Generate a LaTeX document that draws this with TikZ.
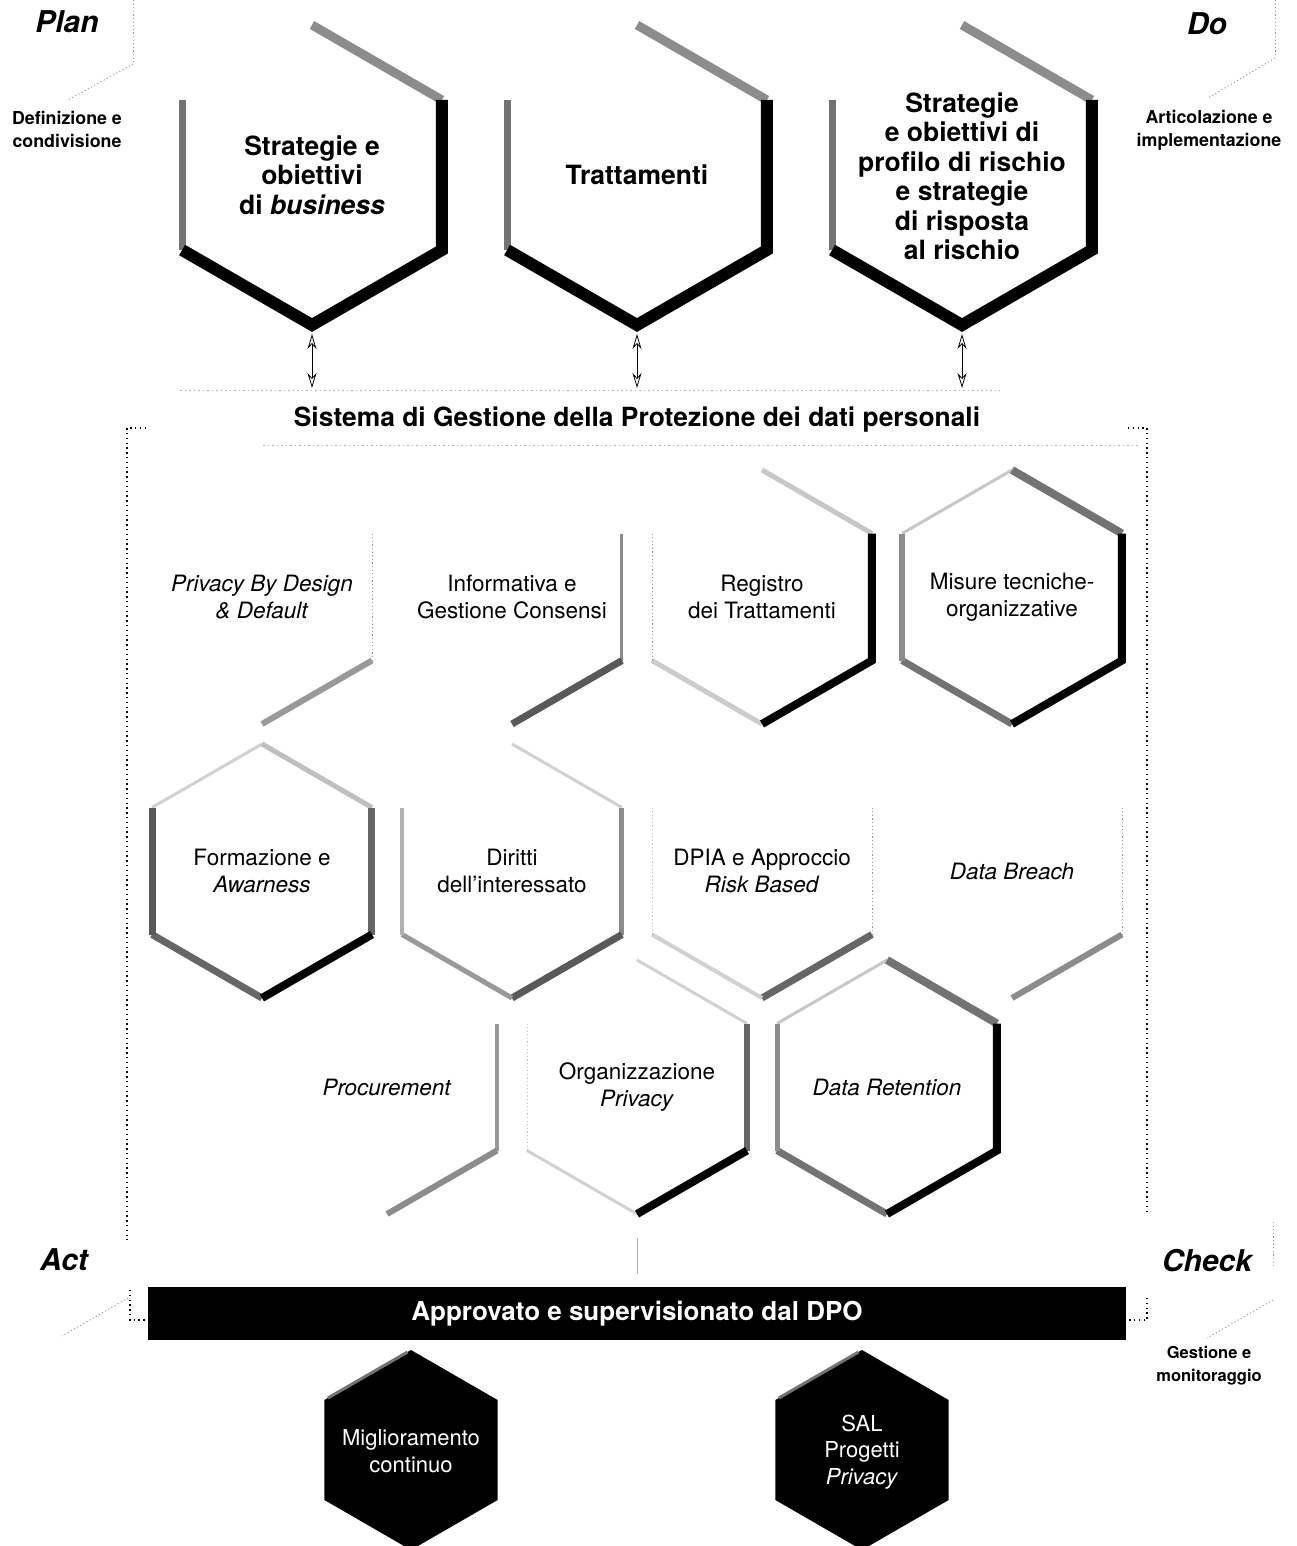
\documentclass[tikz,border=0pt]{standalone}
\usepackage{fontspec}
\setmainfont{TeX Gyre Heros}
\usetikzlibrary{arrows.meta,calc}

\newcommand{\hexpts}[4]{%
  \path (#2,#3) coordinate (#1-C)
    ++(0,-#4) coordinate (#1-T)
    ++({0.866*#4},{0.5*#4}) coordinate (#1-TR)
    ++(0,#4) coordinate (#1-BR)
    ++({-0.866*#4},{0.5*#4}) coordinate (#1-B)
    ++({-0.866*#4},{-0.5*#4}) coordinate (#1-BL)
    ++(0,-#4) coordinate (#1-TL);}

\begin{document}
\begin{tikzpicture}[x=1pt,y=-1pt,
  blkT/.style={draw=black, line width=12pt, line join=miter, miter limit=10},
  blk/.style={draw=black, line width=8pt, line join=miter, miter limit=10},
  ge/.style 2 args={draw=black!#1, line width=#2pt},
  faint/.style={draw=black!40, line width=0.9pt, dash pattern=on 1.2pt off 2.4pt},
  faintline/.style={draw=black!30, line width=0.8pt, dash pattern=on 1.5pt off 3pt},
  frame/.style={draw=black, line width=1.4pt, dash pattern=on 1.4pt off 3.4pt},
  toptxt/.style={font=\fontsize{26.5}{29.5}\selectfont\bfseries, align=center, inner sep=0pt},
  midtxt/.style={font=\fontsize{22.5}{27}\selectfont, align=center, inner sep=0pt},
  pdca/.style={font=\fontsize{30}{32}\selectfont\bfseries\itshape, inner sep=0pt},
  pdcasub/.style={font=\fontsize{17.8}{23}\selectfont\bfseries, align=center, inner sep=0pt},
  bottxt/.style={font=\fontsize{22}{26.5}\selectfont, text=white, align=center, inner sep=0pt},
  dbl/.style={{Stealth[open,length=15pt,width=9pt]}-{Stealth[open,length=15pt,width=9pt]}, line width=0.8pt},
]
\useasboundingbox[fill=white] (0,0) rectangle (1296,1546);

% ---------- hexagon geometry ----------
\hexpts{H1}{312}{175}{150}
\hexpts{H2}{637}{175}{150}
\hexpts{H3}{962}{175}{150}
\hexpts{P}{262}{597}{127}
\hexpts{I}{512}{597}{127}
\hexpts{Rg}{762}{597}{127}
\hexpts{M}{1012}{597}{127}
\hexpts{F}{262}{871}{127}
\hexpts{D}{512}{871}{127}
\hexpts{DP}{762}{871}{127}
\hexpts{DB}{1012}{871}{127}
\hexpts{Pr}{387}{1087}{127}
\hexpts{O}{637}{1087}{127}
\hexpts{DR}{887}{1087}{127}
\hexpts{MG}{411}{1450}{100}
\hexpts{SAL}{862}{1450}{100}

% ---------- top hexagons ----------
\foreach \h in {H1,H2,H3}{
  \draw[ge={45}{9}] (\h-T) -- (\h-TR);
  \draw[ge={55}{7}] (\h-TL) -- (\h-BL);
  \draw[blkT] (\h-TR) -- (\h-BR) -- (\h-B) -- (\h-BL);
}
\node[toptxt] (tH1) at (H1-C) {Strategie e\\obiettivi\\di \textit{business}};
\node[toptxt] (tH2) at (H2-C) {Trattamenti};
\node[toptxt] (tH3) at ([yshift=-1pt]H3-C) {Strategie\\e obiettivi di\\profilo di rischio\\e strategie\\di risposta\\al rischio};

% ---------- PDCA labels ----------
\node[pdca] (plan) at (67,22) {Plan};
\node[pdcasub] (plansub) at (67,129) {Definizione e\\condivisione};
\node[pdca] (do) at (1207,24) {Do};
\node[pdcasub] (dosub) at (1209,130) {Articolazione e\\implementazione};
\node[pdca] (act) at (64,1260) {Act};
\node[pdca] (check) at (1207,1261) {Check};
\node[pdcasub, font=\fontsize{16.5}{23}\selectfont\bfseries] (checksub) at (1209,1366) {Gestione e\\monitoraggio};

\draw[faint] (133,0) -- (133,62);
\draw[faint] (133,64) -- (68,100);
\draw[faint] (1275,0) -- (1275,55);
\draw[faint] (1275,58) -- (1208,98);
\draw[faint] (128,1298) -- (62,1336);
\draw[faint] (1273,1222) -- (1273,1268);
\draw[faint] (1273,1300) -- (1207,1338);

% ---------- system title and frame ----------
\node[font=\fontsize{26.4}{30}\selectfont\bfseries, inner sep=0pt] (sys) at (637,420)
  {Sistema di Gestione della Protezione dei dati personali};
\coordinate (sysY) at (637,388);
\draw[faintline] (180,390) -- (1000,390);
\draw[faintline] (263,445) -- (1140,445);

\foreach \h in {H1,H2,H3}{
  \draw[dbl] ([yshift=-9pt]\h-B) -- (\h-B |- sysY);
}

\draw[frame] (146,428) -- (127,428) -- (127,1240);
\draw[frame] (1128,428) -- (1147,428) -- (1147,1215);

% ---------- middle hexagons: row 1 ----------
\draw[faint] (P-TR) -- (P-BR);
\draw[ge={40}{6}] (P-BR) -- (P-B);

\draw[ge={45}{3}] (I-TR) -- (I-BR);
\draw[ge={65}{7}] (I-BR) -- (I-B);

\draw[ge={22}{5}] (Rg-T) -- (Rg-TR);
\draw[ge={20}{5}] (Rg-B) -- (Rg-BL);
\draw[faint] (Rg-BL) -- (Rg-TL);
\draw[blk] (Rg-TR) -- (Rg-BR) -- (Rg-B);

\draw[ge={22}{3}] (M-TL) -- (M-T);
\draw[ge={55}{8}] (M-T) -- (M-TR);
\draw[ge={55}{7}] (M-B) -- (M-BL);
\draw[ge={45}{6}] (M-BL) -- (M-TL);
\draw[blk] (M-TR) -- (M-BR) -- (M-B);

% ---------- row 2 ----------
\draw[ge={18}{3}] (F-TL) -- (F-T);
\draw[ge={25}{5}] (F-T) -- (F-TR);
\draw[ge={60}{7}] (F-TR) -- (F-BR);
\draw[ge={60}{7}] (F-B) -- (F-BL);
\draw[ge={65}{7}] (F-BL) -- (F-TL);
\draw[blk] (F-BR) -- (F-B);

\draw[ge={18}{3}] (D-T) -- (D-TR);
\draw[ge={45}{5}] (D-TR) -- (D-BR);
\draw[ge={65}{7}] (D-BR) -- (D-B);
\draw[ge={40}{5}] (D-B) -- (D-BL);
\draw[ge={30}{4}] (D-BL) -- (D-TL);

\draw[faint] (DP-TR) -- (DP-BR);
\draw[ge={60}{7}] (DP-BR) -- (DP-B);
\draw[ge={18}{4}] (DP-B) -- (DP-BL);
\draw[faint, draw=black!25] (DP-BL) -- (DP-TL);

\draw[faint] (DB-TR) -- (DB-BR);
\draw[ge={45}{6}] (DB-BR) -- (DB-B);

% ---------- row 3 ----------
\draw[ge={40}{4}] (Pr-TR) -- (Pr-BR);
\draw[ge={45}{6}] (Pr-BR) -- (Pr-B);

\draw[ge={18}{3}] (O-T) -- (O-TR);
\draw[ge={60}{6}] (O-TR) -- (O-BR);
\draw[ge={18}{3}] (O-B) -- (O-BL);
\draw[faint, draw=black!25] (O-BL) -- (O-TL);
\draw[blk] (O-BR) -- (O-B);

\draw[ge={22}{3}] (DR-TL) -- (DR-T);
\draw[ge={55}{8}] (DR-T) -- (DR-TR);
\draw[ge={55}{7}] (DR-B) -- (DR-BL);
\draw[ge={45}{5}] (DR-BL) -- (DR-TL);
\draw[blk] (DR-TR) -- (DR-BR) -- (DR-B);

% ---------- middle texts ----------
\node[midtxt] (tP) at (P-C) {\textit{Privacy By Design}\\\textit{\& Default}};
\node[midtxt] (tI) at (I-C) {Informativa e\\Gestione Consensi};
\node[midtxt] (tRg) at (Rg-C) {Registro\\dei Trattamenti};
\node[midtxt] (tM) at (M-C) {Misure tecniche-\\organizzative};
\node[midtxt] (tF) at (F-C) {Formazione e\\\textit{Awarness}};
\node[midtxt] (tD) at (D-C) {Diritti\\dell'interessato};
\node[midtxt] (tDP) at (DP-C) {DPIA e Approccio\\\textit{Risk Based}};
\node[midtxt] (tDB) at (DB-C) {\textit{Data Breach}};
\node[midtxt] (tPr) at (Pr-C) {\textit{Procurement}};
\node[midtxt] (tO) at (O-C) {Organizzazione\\\textit{Privacy}};
\node[midtxt] (tDR) at (DR-C) {\textit{Data Retention}};

% ---------- DPO bar ----------
\draw[gray!60, line width=0.8pt] ($(O-B)+(0,24)$) coordinate (ol) -- ++(0,36);
\node[fill=black, minimum width=978pt, minimum height=53pt, inner sep=0pt,
      text=white, font=\fontsize{26}{28}\selectfont\bfseries] (dpo) at (637,1313.5)
  {Approvato e supervisionato dal DPO};
\draw[frame] (130,1290) -- (130,1320) -- (dpo.west |- 0,1320);
\draw[frame] (1147,1298) -- (1147,1320) -- (dpo.east |- 0,1320);

% ---------- bottom black hexagons ----------
\foreach \h in {MG,SAL}{
  \fill[black] (\h-T) -- (\h-TR) -- (\h-BR) -- (\h-B) -- (\h-BL) -- (\h-TL) -- cycle;
  \draw[ge={55}{3}] ($(\h-TL)!0.04!(\h-T)$) -- ($(\h-TL)!0.96!(\h-T)$);
}
\node[bottxt] (tMG) at ([yshift=-1pt]MG-C) {Miglioramento\\continuo};
\node[bottxt] (tSAL) at ([yshift=-2pt]SAL-C) {SAL\\Progetti\\\textit{Privacy}};

\end{tikzpicture}
\end{document}
